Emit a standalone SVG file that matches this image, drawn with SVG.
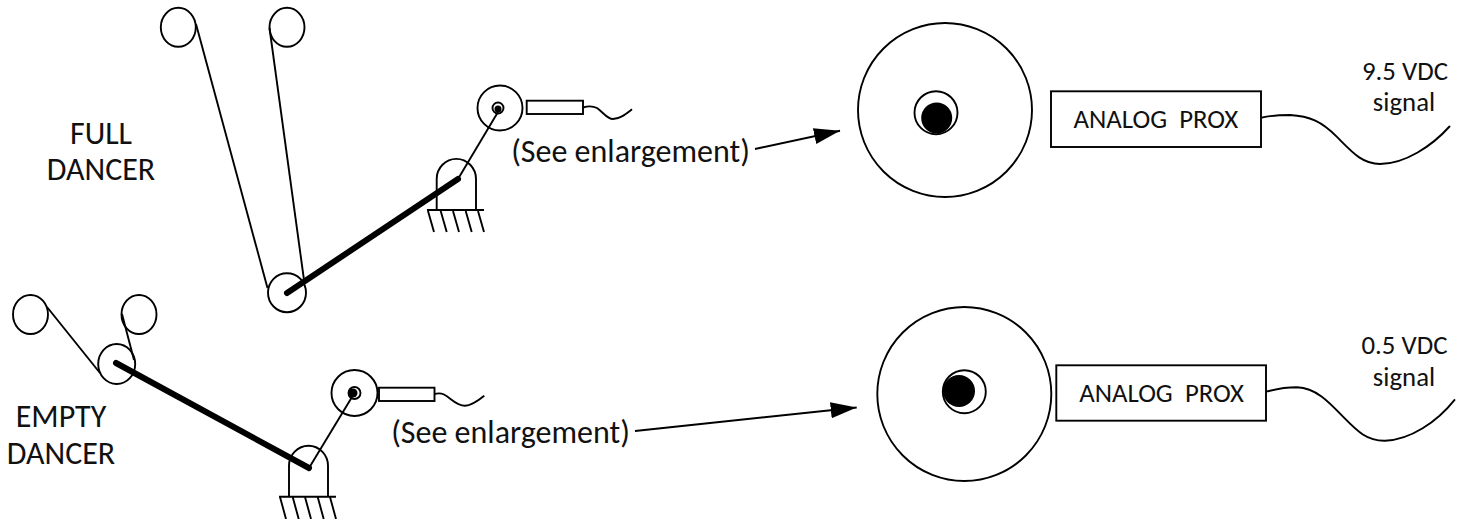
<svg xmlns="http://www.w3.org/2000/svg" width="1463" height="519" viewBox="0 0 1463 519">
<style>
.l{fill:none;stroke:#000;stroke-width:1.9}
.b{fill:#000;stroke:none}
.t{fill:none;stroke:#000;stroke-width:6;stroke-linecap:round}
text{font-family:Carlito,Lato,"Open Sans",sans-serif;fill:#111;text-anchor:middle}
.m{font-size:32px}
.s{font-size:26.800px}
</style>
<defs><marker id="a" markerUnits="userSpaceOnUse" markerWidth="28" markerHeight="20" refX="26" refY="10" orient="auto"><path d="M0 2 L26 10 L0 18 Z" fill="#000"/></marker></defs>
<rect width="1463" height="519" fill="#fff"/>
<g id="connectors">
<path class="l" d="M196 24 L267.500 288"/>
<path class="l" d="M269.500 28 L304 280"/>
<path class="l" d="M47 307 L100 373"/>
<path class="l" d="M122 314 L134 360"/>
<path class="l" d="M498 112 L458 179"/>
<path class="l" d="M352 397 L309 468"/>
<path class="l" d="M755 149 L840 130.700" marker-end="url(#a)"/>
<path class="l" d="M635 431 L856.700 407.500" marker-end="url(#a)"/>
<path class="l" d="M583 107.500 C588 106 593 106 597 108 C603 112 607 119 613 119 C620 119 626 114 632 109.300"/>
<path class="l" d="M434.300 394 C438 393 441 393 444 394.500 C451 398 456 405.700 465 405.700 C472 405.700 479 400 484.300 395.700"/>
<path class="l" d="M1261.700 117.700 C1272 115 1282 115 1290 115 C1310 116 1322 122 1336.700 136.700 C1352 152 1362 164 1380 164 C1405 164 1432 146 1450 126"/>
<path class="l" d="M1266 391.700 C1276 389 1288 387.300 1297 387.300 C1316 388 1329 402 1343 416.700 C1358 432 1367 441 1385 440.700 C1410 440 1437 422 1455 399.300"/>
</g>
<g id="full-roller-1"><ellipse class="l" cx="178.300" cy="27.300" rx="17.500" ry="19.500"/></g>
<g id="full-roller-2"><ellipse class="l" cx="287" cy="27.300" rx="17.500" ry="19.500"/></g>
<g id="full-dancer-roller"><ellipse class="l" cx="287" cy="292.700" rx="19" ry="19.500"/></g>
<g id="full-arm"><path class="t" d="M287 293 L458 179"/></g>
<g id="full-pivot"><path class="l" d="M436.700 210 V179 A19.500 20 0 0 1 476 179 V210 M427 210 H484 M428 211 L434 232 M440.700 211 L446.700 232 M453 211 L459 232 M465.700 211 L471.700 232 M478 211 L484 232"/></g>
<g id="full-cam"><circle class="l" cx="500" cy="108" r="22.500"/><circle class="l" cx="498" cy="108" r="5.500"/><circle class="b" cx="498" cy="109" r="3.500"/></g>
<g id="full-sensor"><rect class="l" x="526.700" y="100.700" width="56.300" height="13.300"/></g>
<g id="full-label"><text class="m" x="101" y="144">FULL</text><text class="m" x="101" y="180">DANCER</text></g>
<g id="full-see"><text class="m" x="630.500" y="162">(See enlargement)</text></g>
<g id="empty-roller-1"><ellipse class="l" cx="30.500" cy="314.500" rx="17.500" ry="19.500"/></g>
<g id="empty-roller-2"><ellipse class="l" cx="139" cy="314.500" rx="17.500" ry="19.500"/></g>
<g id="empty-dancer-roller"><ellipse class="l" cx="116.700" cy="364" rx="18.500" ry="20"/></g>
<g id="empty-arm"><path class="t" d="M116 363 L309 468"/></g>
<g id="empty-pivot"><path class="l" d="M289 496.700 V465.700 A19.500 20 0 0 1 328 465.700 V496.700 M279 496.700 H336 M280 497 L286 519 M292.700 497 L298.700 519 M305 497 L311 519 M317.700 497 L323.700 519 M330 497 L336 519"/></g>
<g id="empty-cam"><circle class="l" cx="354.500" cy="393" r="23"/><circle class="l" cx="354.500" cy="393" r="6"/><circle class="b" cx="353" cy="393" r="4.500"/></g>
<g id="empty-sensor"><rect class="l" x="379" y="387.700" width="55.500" height="13.300"/></g>
<g id="empty-label"><text class="m" x="61" y="427">EMPTY</text><text class="m" x="61" y="464">DANCER</text></g>
<g id="empty-see"><text class="m" x="510.500" y="443">(See enlargement)</text></g>
<g id="full-enlarged"><circle class="l" cx="945" cy="110" r="87"/><circle class="l" cx="936" cy="112.700" r="21.500"/><circle class="b" cx="936.700" cy="118" r="15.500"/></g>
<g id="full-prox"><rect class="l" x="1051" y="91.300" width="210" height="55.700"/><text class="s" x="1155.800" y="128" xml:space="preserve">ANALOG  PROX</text></g>
<g id="full-signal"><text class="s" x="1405" y="80">9.5 VDC</text><text class="s" x="1404" y="111">signal</text></g>
<g id="empty-enlarged"><circle class="l" cx="964.300" cy="394" r="87"/><circle class="l" cx="964.300" cy="391.700" r="21.500"/><circle class="b" cx="959" cy="391" r="16"/></g>
<g id="empty-prox"><rect class="l" x="1056.300" y="365.300" width="209.700" height="55.400"/><text class="s" x="1161.500" y="401.700" xml:space="preserve">ANALOG  PROX</text></g>
<g id="empty-signal"><text class="s" x="1404.500" y="353.500">0.5 VDC</text><text class="s" x="1404" y="385.500">signal</text></g>
</svg>
